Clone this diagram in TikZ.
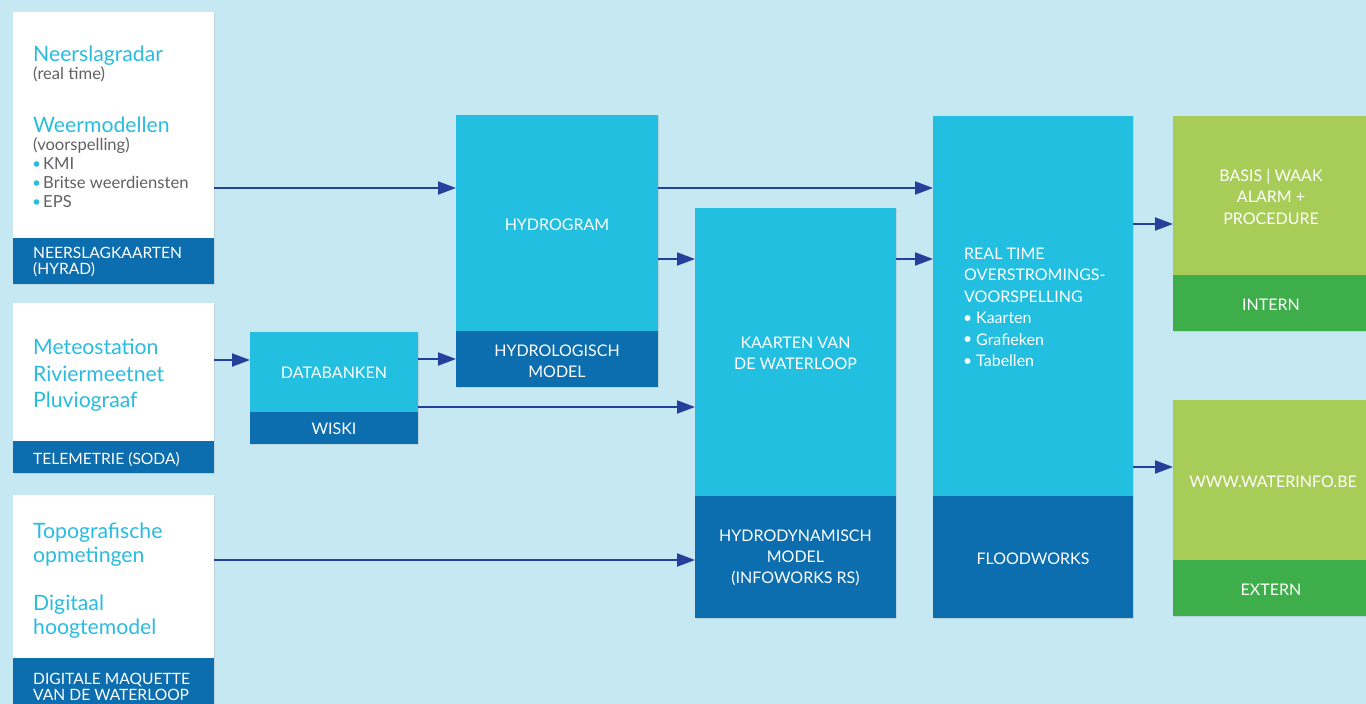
\documentclass[tikz,border=0pt]{standalone}
\usepackage{fontspec}
\setmainfont{Lato}
\usetikzlibrary{arrows.meta,shadows}
\definecolor{bgc}{HTML}{C5E8F3}
\definecolor{cyanbox}{HTML}{22BFE1}
\definecolor{bandc}{HTML}{0D6EAF}
\definecolor{cyantext}{HTML}{2ABCE0}
\definecolor{greytext}{HTML}{606164}
\definecolor{arrowc}{HTML}{24409A}
\definecolor{lgreen}{HTML}{A7CD58}
\definecolor{dgreen}{HTML}{3EAE4A}
\tikzset{
  panel/.style 2 args={anchor=north west,inner sep=0pt,outer sep=0pt,minimum width=#1,minimum height=#2,
    drop shadow={opacity=0.18,shadow xshift=1pt,shadow yshift=-1pt}},
  ttl/.style={anchor=base west,text=cyantext,font=\fontsize{21.2}{25}\selectfont,inner sep=0pt},
  sub/.style={anchor=base west,text=greytext,font=\fontsize{16.6}{20}\selectfont,inner sep=0pt},
  bandtxt/.style={anchor=base west,text=white,font=\fontsize{15.6}{18}\selectfont,inner sep=0pt},
  wtxt/.style={anchor=base,text=white,font=\fontsize{16}{19}\selectfont,inner sep=0pt},
  wltxt/.style={anchor=base west,text=white,font=\fontsize{16}{19}\selectfont,inner sep=0pt},
  arr/.style={draw=arrowc,line width=2pt,-{Triangle[length=18pt,width=13pt]}},
}
\begin{document}
\begin{tikzpicture}[x=1pt,y=-1pt]
\fill[bgc] (0,0) rectangle (1366,704);
\useasboundingbox (0,0) rectangle (1366,704);

% left column
\node[panel={201pt}{226pt},fill=white] (b1) at (13,12) {};
\node[panel={201pt}{46pt},fill=bandc] (b1b) at (13,238) {};
\node[panel={201pt}{138pt},fill=white] (b2) at (13,303) {};
\node[panel={201pt}{32pt},fill=bandc] (b2b) at (13,441) {};
\node[panel={201pt}{163pt},fill=white] (b3) at (13,495) {};
\node[panel={201pt}{50pt},fill=bandc] (b3b) at (13,658) {};

% middle
\node[panel={168pt}{80pt},fill=cyanbox] (db) at (250,332) {};
\node[panel={168pt}{32pt},fill=bandc] (dbb) at (250,412) {};
\node[panel={202pt}{216pt},fill=cyanbox] (hyd) at (456,115) {};
\node[panel={202pt}{56pt},fill=bandc] (hydb) at (456,331) {};
\node[panel={201pt}{288pt},fill=cyanbox] (kaa) at (695,208) {};
\node[panel={201pt}{122pt},fill=bandc] (kaab) at (695,496) {};
\node[panel={200pt}{380pt},fill=cyanbox] (rt) at (933,116) {};
\node[panel={200pt}{122pt},fill=bandc] (rtb) at (933,496) {};

% right
\node[panel={193pt}{159pt},fill=lgreen] (g1) at (1173,116) {};
\node[panel={193pt}{56pt},fill=dgreen] (g1b) at (1173,275) {};
\node[panel={193pt}{160pt},fill=lgreen] (g2) at (1173,400) {};
\node[panel={193pt}{56pt},fill=dgreen] (g2b) at (1173,560) {};

% texts box 1
\node[ttl] (t11) at (33,61) {Neerslagradar};
\node[sub] (t12) at (33,79) {(real time)};
\node[ttl] (t13) at (33,132) {Weermodellen};
\node[sub] (t14) at (33,150) {(voorspelling)};
\fill[cyantext] (36.5,164) circle (2.8pt);
\node[sub] (t15) at (43,169) {KMI};
\fill[cyantext] (36.5,183) circle (2.8pt);
\node[sub] (t16) at (43,188) {Britse weerdiensten};
\fill[cyantext] (36.5,202) circle (2.8pt);
\node[sub] (t17) at (43,207) {EPS};
\node[bandtxt] (t18) at (33,258) {NEERSLAGKAARTEN};
\node[bandtxt] (t19) at (33,274) {(HYRAD)};

% texts box 2
\node[ttl] (t21) at (33,354) {Meteostation};
\node[ttl] (t22) at (33,381) {Riviermeetnet};
\node[ttl] (t23) at (33,407) {Pluviograaf};
\node[bandtxt] (t24) at (33,464) {TELEMETRIE (SODA)};

% texts box 3
\node[ttl] (t31) at (33,538) {Topografische};
\node[ttl] (t32) at (33,562) {opmetingen};
\node[ttl] (t33) at (33,610) {Digitaal};
\node[ttl] (t34) at (33,634) {hoogtemodel};
\node[bandtxt] (t35) at (33,684) {DIGITALE MAQUETTE};
\node[bandtxt] (t36) at (33,700) {VAN DE WATERLOOP};

% databanken
\node[wtxt] (t41) at (334,378) {DATABANKEN};
\node[wtxt] (t42) at (334,434) {WISKI};

% hydrogram
\node[wtxt] (t51) at (557,230) {HYDROGRAM};
\node[wtxt] (t52) at (557,356) {HYDROLOGISCH};
\node[wtxt] (t53) at (557,377) {MODEL};

% kaarten
\node[wtxt] (t61) at (795.5,348) {KAARTEN VAN};
\node[wtxt] (t62) at (795.5,369) {DE WATERLOOP};
\node[wtxt] (t63) at (795.5,541) {HYDRODYNAMISCH};
\node[wtxt] (t64) at (795.5,562) {MODEL};
\node[wtxt] (t65) at (795.5,583) {(INFOWORKS RS)};

% real time
\node[wltxt] (t71) at (964,259) {REAL TIME};
\node[wltxt] (t72) at (964,280) {OVERSTROMINGS-};
\node[wltxt] (t73) at (964,302) {VOORSPELLING};
\fill[white] (967.5,318) circle (3pt);
\node[wltxt] (t74) at (976,323) {Kaarten};
\fill[white] (967.5,339) circle (3pt);
\node[wltxt] (t75) at (976,345) {Grafieken};
\fill[white] (967.5,361) circle (3pt);
\node[wltxt] (t76) at (976,366) {Tabellen};
\node[wtxt] (t77) at (1033,564) {FLOODWORKS};

% green
\node[wtxt] (t81) at (1271,181) {BASIS | WAAK};
\node[wtxt] (t82) at (1271,202) {ALARM +};
\node[wtxt] (t83) at (1271,224) {PROCEDURE};
\node[wtxt] (t84) at (1271,310) {INTERN};
\node[wtxt] (t85) at (1273,487) {WWW.WATERINFO.BE};
\node[wtxt] (t86) at (1271,595) {EXTERN};

% arrows
\draw[arr] (b1.east |- 0,188) -- (hyd.west |- 0,188);
\draw[arr] (b2.east |- 0,360) -- (db.west |- 0,360);
\draw[arr] (db.east |- 0,359) -- (hydb.west |- 0,359);
\draw[arr] (dbb.east |- 0,407) -- (kaa.west |- 0,407);
\draw[arr] (b3.east |- 0,560) -- (kaab.west |- 0,560);
\draw[arr] (hyd.east |- 0,188) -- (rt.west |- 0,188);
\draw[arr] (hyd.east |- 0,259) -- (kaa.west |- 0,259);
\draw[arr] (kaa.east |- 0,259) -- (rt.west |- 0,259);
\draw[arr] (rt.east |- 0,224) -- (g1.west |- 0,224);
\draw[arr] (rt.east |- 0,467) -- (g2.west |- 0,467);
\end{tikzpicture}
\end{document}
